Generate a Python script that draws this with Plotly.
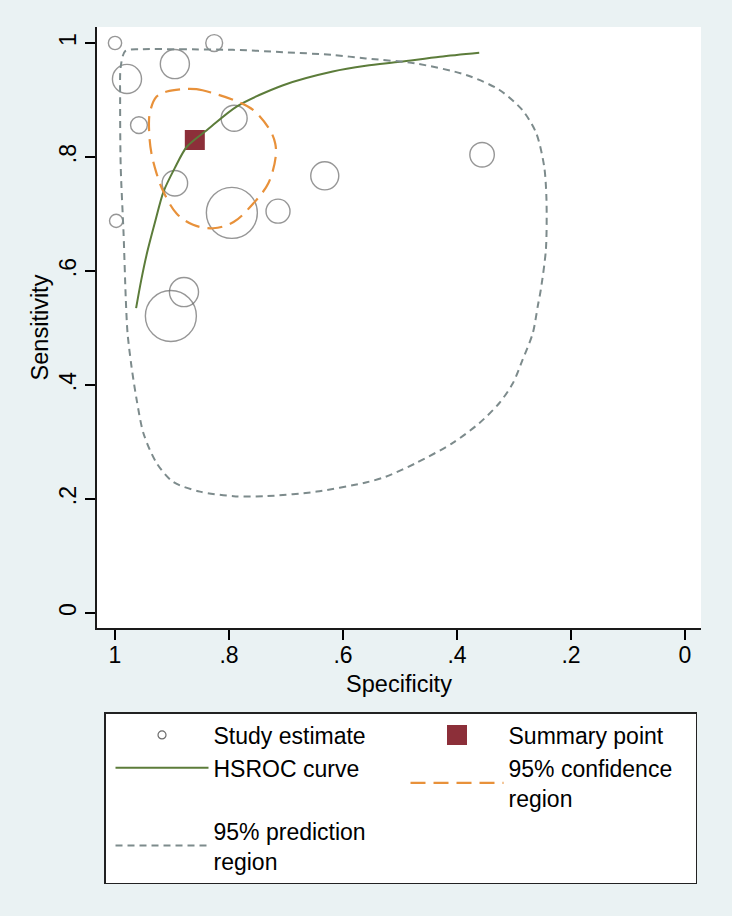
import plotly.graph_objects as go

# ---------------- data ----------------
tick_vals = [0, 0.2, 0.4, 0.6, 0.8, 1]
tick_text = ["0", ".2", ".4", ".6", ".8", "1"]

# study estimates (specificity, sensitivity, relative study weight)
study_spec = [1.000, 0.826, 0.895, 0.979, 0.958, 0.791, 0.895, 0.795, 0.714, 0.632, 0.356, 0.998, 0.879, 0.902]
study_sens = [1.000, 1.000, 0.963, 0.937, 0.856, 0.868, 0.754, 0.702, 0.705, 0.767, 0.804, 0.688, 0.563, 0.521]
study_weight = [26, 33, 57, 57, 33, 51, 50, 100, 47, 55, 48, 26, 57, 100]

# summary point
summary_spec = [0.860]
summary_sens = [0.830]

# HSROC curve
hsroc_spec = [0.963, 0.954, 0.944, 0.930, 0.915, 0.895, 0.874, 0.839, 0.786, 0.705, 0.618, 0.560, 0.500, 0.430, 0.361]
hsroc_sens = [0.535, 0.584, 0.631, 0.685, 0.739, 0.781, 0.818, 0.847, 0.889, 0.926, 0.950, 0.960, 0.967, 0.976, 0.983]

# 95% confidence region
conf_spec = [0.883, 0.857, 0.828, 0.792, 0.757, 0.728, 0.719, 0.718, 0.731, 0.757, 0.792, 0.828, 0.863,
             0.892, 0.915, 0.927, 0.936, 0.940, 0.939, 0.927, 0.909, 0.883]
conf_sens = [0.919, 0.919, 0.912, 0.900, 0.882, 0.847, 0.824, 0.801, 0.754, 0.719, 0.686, 0.675, 0.681,
             0.701, 0.739, 0.771, 0.806, 0.842, 0.877, 0.906, 0.915, 0.919]

# 95% prediction region
pred_spec = [0.956, 0.886, 0.793, 0.705, 0.618, 0.560, 0.472, 0.384, 0.326, 0.285, 0.261, 0.247, 0.243,
             0.244, 0.253, 0.258, 0.267, 0.285, 0.302, 0.326, 0.361, 0.408, 0.472, 0.525, 0.560, 0.646,
             0.734, 0.792, 0.851, 0.898, 0.927, 0.950, 0.962, 0.971, 0.978, 0.981, 0.985, 0.990, 0.991,
             0.990, 0.982, 0.956]
pred_sens = [0.989, 0.989, 0.988, 0.984, 0.979, 0.973, 0.964, 0.944, 0.918, 0.882, 0.842, 0.783, 0.725,
             0.638, 0.567, 0.540, 0.491, 0.444, 0.403, 0.368, 0.333, 0.298, 0.263, 0.239, 0.229, 0.213,
             0.205, 0.205, 0.213, 0.230, 0.263, 0.315, 0.374, 0.432, 0.491, 0.549, 0.666, 0.783, 0.900,
             0.958, 0.986, 0.989]

# ---------------- styles ----------------
FONT = "Liberation Sans, Arial, Helvetica, sans-serif"
BG = "#eaf2f3"
CIRCLE_COL = "#6a6a6a"
SUMMARY_COL = "#8c2f39"
HSROC_COL = "#5c7c3a"
CONF_COL = "#e8913a"
PRED_COL = "#7d8b8c"

fig = go.Figure()

# study estimates (plot)
fig.add_trace(go.Scatter(
    x=study_spec, y=study_sens, mode="markers", name="Study estimate", showlegend=False,
    marker=dict(symbol="circle-open", size=[w * 0.51 for w in study_weight],
                color=CIRCLE_COL, line=dict(width=1.4)),
    hoverinfo="skip"))
# study estimate legend entry
fig.add_trace(go.Scatter(
    x=[None], y=[None], mode="markers", name="Study estimate", legendrank=1,
    marker=dict(symbol="circle-open", size=8, color=CIRCLE_COL, line=dict(width=1.2))))

# summary point
fig.add_trace(go.Scatter(
    x=summary_spec, y=summary_sens, mode="markers", name="Summary point", legendrank=2,
    marker=dict(symbol="square", size=16, color=SUMMARY_COL,
                line=dict(width=4, color=SUMMARY_COL))))

# HSROC curve
fig.add_trace(go.Scatter(
    x=hsroc_spec, y=hsroc_sens, mode="lines", name="HSROC curve", legendrank=3,
    line=dict(color=HSROC_COL, width=2, shape="spline", smoothing=0.8)))

# confidence region
fig.add_trace(go.Scatter(
    x=conf_spec, y=conf_sens, mode="lines", name="95% confidence<br>region", legendrank=4,
    line=dict(color=CONF_COL, width=2.2, dash="15px,8px", shape="spline", smoothing=1.0)))

# prediction region
fig.add_trace(go.Scatter(
    x=pred_spec, y=pred_sens, mode="lines", name="95% prediction<br>region", legendrank=5,
    line=dict(color=PRED_COL, width=2, dash="7px,5px", shape="spline", smoothing=0.8)))

axis_common = dict(
    tickmode="array", tickvals=tick_vals, ticktext=tick_text,
    ticks="outside", ticklen=10, tickwidth=1.5, tickcolor="black",
    showline=True, linecolor="#1a1a1a", linewidth=1.6,
    showgrid=False, zeroline=False,
    tickfont=dict(family=FONT, size=23, color="black"),
)

fig.update_layout(
    width=732, height=916,
    margin=dict(l=97, r=31, t=27, b=288, autoexpand=False),
    paper_bgcolor=BG, plot_bgcolor="white",
    font=dict(family=FONT, size=23, color="black"),
    xaxis=dict(range=[1.0316, -0.0281], ticklabelstandoff=-4,
               title=dict(text="Specificity", font=dict(size=23.5), standoff=8),
               **axis_common),
    yaxis=dict(range=[-0.0263, 1.0281], tickangle=-90,
               title=dict(text="Sensitivity", font=dict(size=23.5), standoff=0),
               **axis_common),
    showlegend=True,
    legend=dict(orientation="h", x=0.0116, y=-0.1398, xanchor="left", yanchor="top",
                bgcolor="white", bordercolor="#222222", borderwidth=1.5,
                font=dict(family=FONT, size=23, color="black"),
                indentation=5, itemwidth=93, entrywidth=182, entrywidthmode="pixels",
                traceorder="normal", valign="middle", itemclick=False, itemdoubleclick=False),
)

fig.write_html(
    "out.html",
    config={"displayModeBar": False},
    post_script=f"document.body.style.margin='0px';document.body.style.background='{BG}';",
)
